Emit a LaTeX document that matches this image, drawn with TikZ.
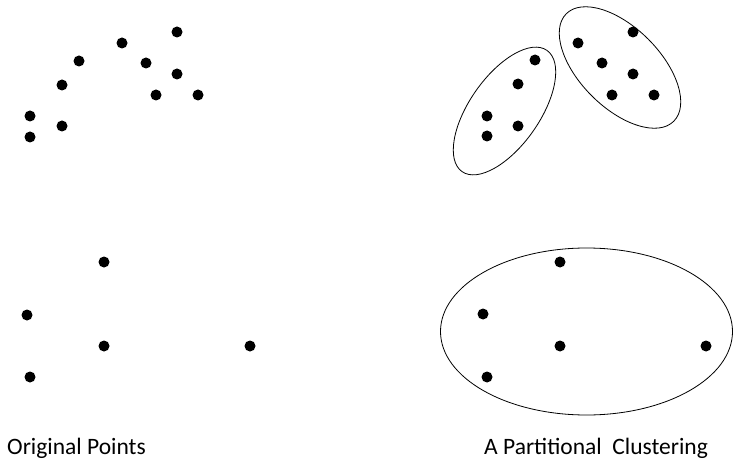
\documentclass[tikz,border=0pt]{standalone}
\usepackage{fontspec}
\setmainfont{Carlito}
\begin{document}
\begin{tikzpicture}[x=1pt,y=-1pt,
  pt/.style={circle,fill=black,inner sep=0pt,minimum size=11pt},
  clus/.style={draw=black,line width=0.8pt},
  lbl/.style={font=\fontsize{23.5}{28}\selectfont,anchor=base west,inner sep=0pt}]
\useasboundingbox (0,0) rectangle (733,465);
% left: original points
\node[pt] (a1) at (177,32) {};
\node[pt] (a2) at (122,43) {};
\node[pt] (a3) at (79,61) {};
\node[pt] (a4) at (146,63) {};
\node[pt] (a5) at (177,74) {};
\node[pt] (a6) at (62,85) {};
\node[pt] (a7) at (156,95) {};
\node[pt] (a8) at (198,95) {};
\node[pt] (a9) at (30,116) {};
\node[pt] (a10) at (62,126) {};
\node[pt] (a11) at (30,137) {};
\node[pt] (b1) at (104,262) {};
\node[pt] (b2) at (27,315) {};
\node[pt] (b3) at (104,346) {};
\node[pt] (b4) at (250,346) {};
\node[pt] (b5) at (30,377) {};
% right: clustering
\node[pt] (c1) at (535,60) {};
\node[pt] (c2) at (518,84) {};
\node[pt] (c3) at (487,116) {};
\node[pt] (c4) at (518,126) {};
\node[pt] (c5) at (487,136) {};
\node[pt] (d1) at (578,43) {};
\node[pt] (d2) at (633,32) {};
\node[pt] (d3) at (602,63) {};
\node[pt] (d4) at (633,74) {};
\node[pt] (d5) at (612,95) {};
\node[pt] (d6) at (654,95) {};
\node[pt] (e1) at (560,262) {};
\node[pt] (e2) at (483,314) {};
\node[pt] (e3) at (560,346) {};
\node[pt] (e4) at (706,346) {};
\node[pt] (e5) at (487,377) {};
\coordinate (k1) at (504.5,111);
\coordinate (k2) at (620,67.5);
\coordinate (k3) at (586.5,331.5);
\draw[clus,rotate around={55:(k1)}] (k1) ellipse [x radius=74pt,y radius=35pt];
\draw[clus,rotate around={-45:(k2)}] (k2) ellipse [x radius=76pt,y radius=40pt];
\draw[clus] (k3) ellipse [x radius=146pt,y radius=83.5pt];
\node[lbl] (t1) at (7,454) {Original Points};
\node[lbl] (t2) at (484,454) {A Partitional\ \ Clustering};
\end{tikzpicture}
\end{document}
